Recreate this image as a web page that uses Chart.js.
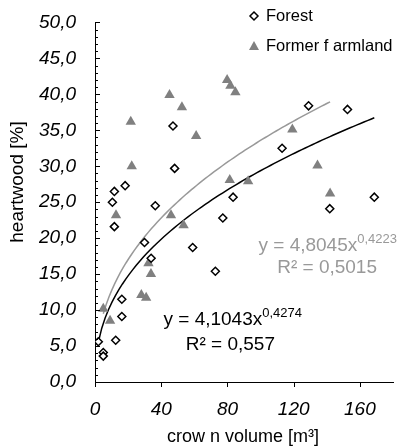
<!DOCTYPE html>
<html>
<head>
<meta charset="utf-8">
<script src="https://cdn.jsdelivr.net/npm/chart.js@4.4.0/dist/chart.umd.min.js"></script>
<style>
  html, body { margin: 0; padding: 0; background: #fff; }
  #wrap { width: 406px; height: 447px; }
</style>
</head>
<body>
<div id="wrap"><canvas id="chart" width="406" height="447"></canvas></div>
<script>
// data
const forestX = [2.0, 5.0, 5.0, 12.5, 16.2, 16.2, 11.7, 10.5, 11.7, 18.2, 29.9, 33.9, 36.4, 48.1, 47.1, 59.0, 72.7, 77.2, 83.4, 113.0, 129.0, 152.5, 141.8, 168.7];
const forestY = [5.6, 4.1, 3.6, 5.8, 9.1, 11.5, 21.6, 25.0, 26.5, 27.3, 19.4, 17.2, 24.5, 29.7, 35.6, 18.7, 15.4, 22.8, 25.7, 32.5, 38.4, 37.9, 24.1, 25.7];
const farmX = [5.0, 9.1, 12.7, 21.6, 22.2, 28.0, 30.9, 32.3, 33.8, 45.0, 45.9, 52.5, 53.5, 61.1, 79.8, 81.8, 84.8, 81.4, 92.5, 119.2, 134.4, 142.0];
const farmY = [10.2, 8.5, 23.2, 36.2, 30.0, 12.1, 11.7, 16.5, 15.0, 39.9, 23.2, 38.2, 21.8, 34.2, 42.0, 41.2, 40.3, 28.1, 27.9, 35.1, 30.1, 26.2];

// power trendlines as printed on the chart: y = a * x^b
const forestFit = [4.1043, 0.4274];
const farmFit = [4.8045, 0.4223];
const forestR2 = "0,557";
const farmR2 = "0,5015";

const xTicks = [0, 40, 80, 120, 160];
const yTicks = [0, 5, 10, 15, 20, 25, 30, 35, 40, 45, 50];

const toPts = (xs, ys) => xs.map((x, i) => ({ x: x, y: ys[i] }));

function fitLine(xs, coef) {
  const lo = Math.min(...xs), hi = Math.max(...xs);
  const pts = [];
  for (let i = 0; i <= 80; i++) {
    const x = lo + (hi - lo) * i / 80;
    pts.push({ x: x, y: coef[0] * Math.pow(x, coef[1]) });
  }
  return pts;
}

const fmt = (a) => a.toString().replace(".", ",");

// axis ticks inside / outside, titles, legend, equations
const extras = {
  id: "extras",
  afterDraw(chart) {
    const ctx = chart.ctx;
    const xs = chart.scales.x, ys = chart.scales.y;
    ctx.save();
    ctx.strokeStyle = "#000";
    ctx.lineWidth = 1;
    // y ticks pointing into the plot
    for (let v = 0; v <= 50; v++) {
      const py = Math.round(ys.getPixelForValue(v)) + 0.5;
      const len = v % 5 === 0 ? 5 : 3;
      ctx.beginPath();
      ctx.moveTo(xs.left, py);
      ctx.lineTo(xs.left + len, py);
      ctx.stroke();
    }
    // x ticks below the axis
    xTicks.forEach(v => {
      const px = Math.round(xs.getPixelForValue(v)) + 0.5;
      ctx.beginPath();
      ctx.moveTo(px, ys.bottom);
      ctx.lineTo(px, ys.bottom + 5);
      ctx.stroke();
    });

    // axis titles
    ctx.fillStyle = "#000";
    ctx.font = "18px 'Liberation Sans', Arial, sans-serif";
    ctx.textAlign = "center";
    ctx.textBaseline = "middle";
    ctx.fillText("crow n volume [m³]", 243, 437);
    ctx.save();
    ctx.translate(18, 182);
    ctx.rotate(-Math.PI / 2);
    ctx.font = "19px 'Liberation Sans', Arial, sans-serif";
    ctx.fillText("heartwood [%]", 0, 0);
    ctx.restore();

    // legend
    ctx.font = "16.5px 'Liberation Sans', Arial, sans-serif";
    ctx.textAlign = "left";
    ctx.fillText("Forest", 266, 16);
    ctx.fillText("Former f armland", 266, 46);
    ctx.lineWidth = 1.5;
    ctx.fillStyle = "#fff";
    ctx.beginPath();
    ctx.moveTo(254, 12); ctx.lineTo(258, 16); ctx.lineTo(254, 20); ctx.lineTo(250, 16); ctx.closePath();
    ctx.fill(); ctx.stroke();
    ctx.fillStyle = "#808080";
    ctx.beginPath();
    ctx.moveTo(254, 41); ctx.lineTo(259, 50); ctx.lineTo(249, 50); ctx.closePath();
    ctx.fill();

    // equations
    function eq(coef, r2, color, right, yEq, rightR2, yR2) {
      const base = "y = " + fmt(coef[0]) + "x";
      const sup = fmt(coef[1]);
      ctx.fillStyle = color;
      ctx.textAlign = "left";
      ctx.font = "13px 'Liberation Sans', Arial, sans-serif";
      const wSup = ctx.measureText(sup).width;
      ctx.font = "19px 'Liberation Sans', Arial, sans-serif";
      const wBase = ctx.measureText(base).width;
      const x0 = right - wSup - wBase;
      ctx.fillText(base, x0, yEq);
      ctx.font = "13px 'Liberation Sans', Arial, sans-serif";
      ctx.fillText(sup, x0 + wBase, yEq - 7);
      ctx.font = "19px 'Liberation Sans', Arial, sans-serif";
      ctx.textAlign = "right";
      ctx.fillText("R² = " + r2, rightR2, yR2);
    }
    eq(farmFit, farmR2, "#999999", 397, 246, 377, 268);
    eq(forestFit, forestR2, "#000000", 302, 320, 275, 345);
    ctx.restore();
  }
};

const tickFont = { family: "'Liberation Sans', Arial, sans-serif", size: 19, style: "italic" };

new Chart(document.getElementById("chart"), {
  type: "scatter",
  data: {
    datasets: [
      {
        label: "Forest",
        data: toPts(forestX, forestY),
        pointStyle: "rectRot",
        pointRadius: 4,
        pointBackgroundColor: "#fff",
        pointBorderColor: "#000",
        pointBorderWidth: 1.5
      },
      {
        label: "Former farmland",
        data: toPts(farmX, farmY),
        pointStyle: "triangle",
        pointRadius: 6,
        pointBackgroundColor: "#808080",
        pointBorderColor: "#808080",
        pointBorderWidth: 0
      },
      {
        label: "Forest fit",
        type: "line",
        data: fitLine(forestX, forestFit),
        borderColor: "#000",
        borderWidth: 1.5,
        pointRadius: 0,
        fill: false
      },
      {
        label: "Farmland fit",
        type: "line",
        data: fitLine(farmX, farmFit),
        borderColor: "#999",
        borderWidth: 1.5,
        pointRadius: 0,
        fill: false
      }
    ]
  },
  options: {
    responsive: false,
    animation: false,
    devicePixelRatio: 1,
    layout: { padding: { left: 0, right: 13, top: 17, bottom: 0 } },
    plugins: {
      legend: { display: false },
      tooltip: { enabled: false }
    },
    scales: {
      x: {
        type: "linear",
        min: 0,
        max: 180,
        afterBuildTicks: (axis) => { axis.ticks = xTicks.map(v => ({ value: v })); },
        afterFit: (axis) => { axis.height = 65; },
        grid: { display: false },
        border: { display: true, color: "#000", width: 1 },
        ticks: { color: "#000", font: tickFont, padding: 8, maxRotation: 0, callback: (v) => v }
      },
      y: {
        min: 0,
        max: 50,
        afterBuildTicks: (axis) => { axis.ticks = yTicks.map(v => ({ value: v })); },
        afterFit: (axis) => { axis.width = 95; },
        grid: { display: false },
        border: { display: true, color: "#000", width: 1 },
        ticks: { color: "#000", font: tickFont, padding: 11, callback: (v) => v.toFixed(1).replace(".", ",") }
      }
    }
  },
  plugins: [extras]
});
</script>
</body>
</html>
